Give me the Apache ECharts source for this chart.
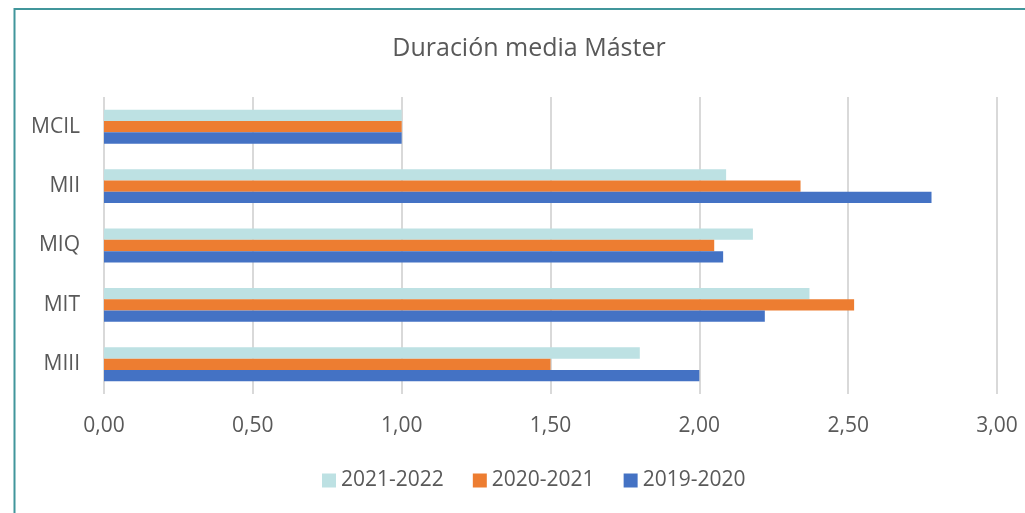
<!DOCTYPE html>
<html>
<head>
<meta charset="utf-8">
<script src="https://cdn.jsdelivr.net/npm/echarts@6/dist/echarts.min.js"></script>
<style>
  html, body { margin: 0; padding: 0; background: #fff; }
  #chart { width: 1025px; height: 513px; }
</style>
</head>
<body>
<div id="chart"></div>
<script>
// Programmes (top to bottom) and average duration per academic year
const categories = ['MCIL', 'MII', 'MIQ', 'MIT', 'MIII'];
const years = ['2021-2022', '2020-2021', '2019-2020'];
const values2122 = [1.00, 2.09, 2.18, 2.37, 1.80];
const values2021 = [1.00, 2.34, 2.05, 2.52, 1.50];
const values1920 = [1.00, 2.78, 2.08, 2.22, 2.00];
const tickValues = [0, 0.5, 1, 1.5, 2, 2.5, 3];

const colors = ['#BDE1E3', '#ED7D31', '#4472C4'];
const seriesData = [values2122, values2021, values1920];
const FONT = 'Open Sans';
const TEXT = '#595959';

const chart = echarts.init(document.getElementById('chart'));
chart.setOption({
  animation: false,
  backgroundColor: '#ffffff',
  color: colors,
  title: {
    text: 'Duración media Máster',
    left: 529,
    top: 36,
    padding: 0,
    textAlign: 'center',
    textStyle: { fontFamily: FONT, fontSize: 25, fontWeight: 'normal', color: TEXT }
  },
  legend: {
    data: years,
    left: 322,
    top: 470,
    padding: 0,
    itemWidth: 14,
    itemHeight: 14,
    itemGap: 29,
    icon: 'rect',
    textStyle: { fontFamily: FONT, fontSize: 21, color: TEXT }
  },
  grid: { left: 104, right: 28, top: 97, height: 297, containLabel: false },
  xAxis: {
    type: 'value',
    min: tickValues[0],
    max: tickValues[tickValues.length - 1],
    interval: 0.5,
    axisLine: { show: false },
    axisTick: { show: false },
    splitLine: { lineStyle: { color: '#D9D9D9', width: 2 } },
    axisLabel: {
      margin: 22,
      fontFamily: FONT, fontSize: 21, color: TEXT,
      formatter: v => v.toFixed(2).replace('.', ',')
    }
  },
  yAxis: {
    type: 'category',
    data: categories,
    inverse: true,
    axisLine: { show: false },
    axisTick: { show: false },
    axisLabel: { margin: 24, fontFamily: FONT, fontSize: 21, color: TEXT }
  },
  series: years.map((name, i) => ({
    name: name,
    type: 'bar',
    data: seriesData[i],
    barGap: '0%',
    barCategoryGap: '43%',
    itemStyle: { color: colors[i] }
  })),
  graphic: [{
    type: 'rect',
    shape: { x: 14.5, y: 9, width: 1030, height: 520 },
    style: { fill: null, stroke: '#41969B', lineWidth: 2 },
    silent: true
  }]
});
</script>
</body>
</html>
